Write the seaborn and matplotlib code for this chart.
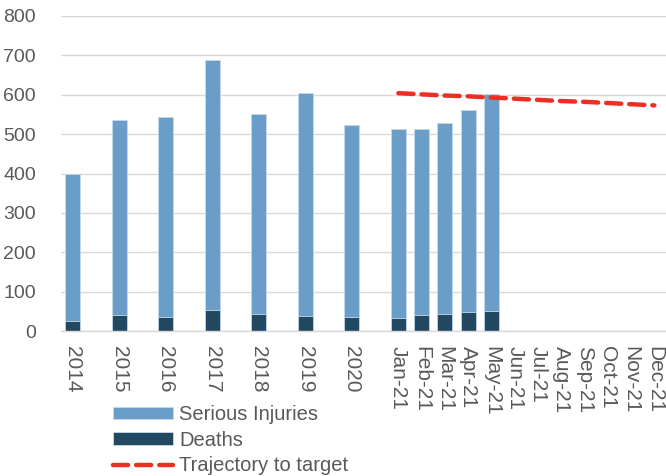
import numpy as np
import pandas as pd
import matplotlib
matplotlib.use("Agg")
import matplotlib.pyplot as plt
import seaborn as sns

# Data
years = ["2014", "2015", "2016", "2017", "2018", "2019", "2020"]
months = ["Jan-21", "Feb-21", "Mar-21", "Apr-21", "May-21", "Jun-21",
          "Jul-21", "Aug-21", "Sep-21", "Oct-21", "Nov-21", "Dec-21"]
deaths_years = [26, 41, 36, 54, 43, 38, 36]
serious_years = [373, 496, 507, 634, 509, 566, 487]
deaths_months = [33, 41, 43, 48, 52, np.nan, np.nan, np.nan, np.nan, np.nan, np.nan, np.nan]
serious_months = [479, 472, 485, 513, 551, np.nan, np.nan, np.nan, np.nan, np.nan, np.nan, np.nan]
trajectory = [604, 601, 598, 596, 593, 590, 587, 584, 582, 579, 576, 573]

sns.set_style("white")
plt.rcParams["font.family"] = ["Liberation Sans", "DejaVu Sans"]
text_col = "#595959"

# each year is followed by an empty slot on the category axis
order = []
for i, y in enumerate(years):
    order.append(y)
    order.append(" " * (i + 1))
order = order + months

df = pd.DataFrame({
    "period": years + months,
    "Deaths": deaths_years + deaths_months,
    "Serious Injuries": serious_years + serious_months,
})
df["Total"] = df["Deaths"] + df["Serious Injuries"]

fig = plt.figure(figsize=(6.66, 4.76), dpi=100)
ax = fig.add_axes([61 / 666, 1 - 331 / 476, 605 / 666, 315 / 476])

sns.barplot(data=df, x="period", y="Total", order=order, color="#6a9ec8",
            width=0.64, saturation=1, edgecolor="#c5d9ea", linewidth=0.6,
            label="Serious Injuries", ax=ax)
sns.barplot(data=df, x="period", y="Deaths", order=order, color="#234861",
            width=0.64, saturation=1, edgecolor="#c5d9ea", linewidth=0.6,
            label="Deaths", ax=ax)

traj_x = [order.index(m) for m in months]
sns.lineplot(x=traj_x, y=trajectory, color="#ee2e24", linewidth=3.2,
             dashes=False, label="Trajectory to target", ax=ax)
ax.lines[-1].set_dashes([3.4, 1.8])
ax.lines[-1].set_dash_capstyle("round")

ax.set_xlim(-0.5, len(order) - 0.5)
ax.set_ylim(0, 800)
ax.set_yticks(range(0, 801, 100))
ax.set_xlabel("")
ax.set_ylabel("")
ax.grid(axis="y", color="#d9d9d9", linewidth=1)
ax.set_axisbelow(True)
for s in ["top", "right", "left"]:
    ax.spines[s].set_visible(False)
ax.spines["bottom"].set_color("#d9d9d9")
ax.spines["bottom"].set_linewidth(1)
ax.tick_params(axis="both", length=0, labelsize=14, labelcolor=text_col)
ax.tick_params(axis="y", pad=18)
ax.tick_params(axis="x", pad=11, labelsize=15)
ax.set_xticks(range(len(order)))
ax.set_xticklabels(order, rotation=-90, va="top", ha="center")

handles, labels = ax.get_legend_handles_labels()
idx = [labels.index(n) for n in ["Serious Injuries", "Deaths", "Trajectory to target"]]
ax.legend([handles[i] for i in idx], [labels[i] for i in idx], loc="upper left",
          bbox_to_anchor=(113 / 666, 1 - 405 / 476),
          bbox_transform=fig.transFigure, frameon=False, fontsize=14.5,
          labelcolor=text_col, borderpad=0, borderaxespad=0,
          handlelength=3.0, handleheight=0.55, handletextpad=0.3,
          labelspacing=0.33)

fig.savefig("out.png", dpi=100)
